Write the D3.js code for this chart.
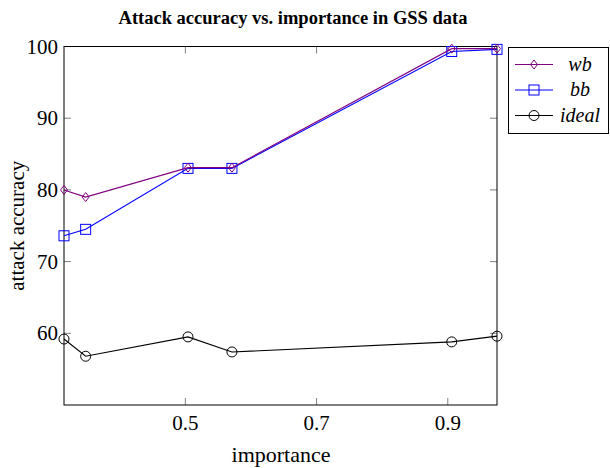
<!DOCTYPE html>
<html>
<head>
<meta charset="utf-8">
<script src="https://cdn.jsdelivr.net/npm/d3@7"></script>
<style>
  body { margin: 0; background: #fff; }
  svg { display: block; }
</style>
</head>
<body>
<div class="chartContainer"></div>
<script>
// Data
var importance = [0.315, 0.348, 0.504, 0.571, 0.906, 0.975];
var wbValues = [80.0, 79.0, 83.1, 83.1, 99.7, 99.7];
var bbValues = [73.6, 74.5, 83.0, 83.0, 99.3, 99.6];
var idealValues = [59.2, 56.8, 59.5, 57.4, 58.8, 59.6];
var xTicks = [0.5, 0.7, 0.9];
var yTicks = [60, 70, 80, 90, 100];
var seriesNames = ["wb", "bb", "ideal"];

//Colors
var wbColor = "#800080";
var bbColor = "#0000ff";
var idealColor = "#000000";
var tickColor = "#808080";

var width = 610, height = 468;
// note: "top" is taken by window.top, so plot edges get their own names
var plotLeft = 64, plotRight = 497, plotTop = 46.5, plotBottom = 405;
var serif = "'Liberation Serif', 'Times New Roman', serif";

var svg = d3.select(".chartContainer").append("svg")
    .attr("width", width)
    .attr("height", height);

var x = d3.scaleLinear().domain([0.315, 0.975]).range([plotLeft, plotRight]);
var y = d3.scaleLinear().domain([50, 100]).range([plotBottom, plotTop]);

// ticks inside on all four sides
var tickLen = 7;
var axisG = svg.append("g");
axisG.selectAll(".xtb").data(xTicks).enter().append("line")
    .attr("x1", d => x(d)).attr("x2", d => x(d))
    .attr("y1", plotBottom).attr("y2", plotBottom - tickLen)
    .style("stroke", tickColor);
axisG.selectAll(".xtt").data(xTicks).enter().append("line")
    .attr("x1", d => x(d)).attr("x2", d => x(d))
    .attr("y1", plotTop).attr("y2", plotTop + tickLen)
    .style("stroke", tickColor);
axisG.selectAll(".ytl").data(yTicks).enter().append("line")
    .attr("x1", plotLeft).attr("x2", plotLeft + tickLen)
    .attr("y1", d => y(d)).attr("y2", d => y(d))
    .style("stroke", tickColor);
axisG.selectAll(".ytr").data(yTicks).enter().append("line")
    .attr("x1", plotRight).attr("x2", plotRight - tickLen)
    .attr("y1", d => y(d)).attr("y2", d => y(d))
    .style("stroke", tickColor);

svg.append("rect")
    .attr("x", plotLeft).attr("y", plotTop)
    .attr("width", plotRight - plotLeft).attr("height", plotBottom - plotTop)
    .style("fill", "none").style("stroke", "#000").style("stroke-width", 1);

// tick labels
svg.selectAll(".xlab").data(xTicks).enter().append("text")
    .text(d => d3.format(".1f")(d))
    .attr("x", d => x(d)).attr("y", 430)
    .attr("text-anchor", "middle")
    .attr("font-family", serif).attr("font-size", "21px");
svg.selectAll(".ylab").data(yTicks).enter().append("text")
    .text(d => d)
    .attr("x", 58).attr("y", d => y(d) + 7)
    .attr("text-anchor", "end")
    .attr("font-family", serif).attr("font-size", "21px");

// axis titles
svg.append("text").text("importance")
    .attr("x", 281).attr("y", 462)
    .attr("text-anchor", "middle")
    .attr("font-family", serif).attr("font-size", "22px");
svg.append("text").text("attack accuracy")
    .attr("transform", "translate(24," + ((plotTop + plotBottom) / 2) + ") rotate(-90)")
    .attr("text-anchor", "middle")
    .attr("font-family", serif).attr("font-size", "21px");
svg.append("text").text("Attack accuracy vs. importance in GSS data")
    .attr("x", 293).attr("y", 24)
    .attr("text-anchor", "middle")
    .attr("font-family", serif).attr("font-weight", "bold").attr("font-size", "18.5px");

// markers
var drawMark = function (g, kind, cx, cy, color) {
    if (kind === "diamond") {
        g.append("path")
            .attr("d", "M" + cx + "," + (cy - 4.5) + "L" + (cx + 3.5) + "," + cy + "L" + cx + "," + (cy + 4.5) + "L" + (cx - 3.5) + "," + cy + "Z")
            .style("fill", "none").style("stroke", color);
    } else if (kind === "square") {
        g.append("rect")
            .attr("x", cx - 5).attr("y", cy - 5).attr("width", 10).attr("height", 10)
            .style("fill", "none").style("stroke", color);
    } else {
        g.append("circle")
            .attr("cx", cx).attr("cy", cy).attr("r", 5)
            .style("fill", "none").style("stroke", color);
    }
};

var series = [
    { name: seriesNames[0], values: wbValues, color: wbColor, mark: "diamond" },
    { name: seriesNames[1], values: bbValues, color: bbColor, mark: "square" },
    { name: seriesNames[2], values: idealValues, color: idealColor, mark: "circle" }
];

var line = d3.line().x(d => x(d[0])).y(d => y(d[1]));

// draw ideal first, then bb, then wb on top
[series[2], series[1], series[0]].forEach(function (s) {
    var pts = importance.map((v, i) => [v, s.values[i]]);
    var g = svg.append("g");
    g.append("path").datum(pts)
        .attr("d", line)
        .style("fill", "none").style("stroke", s.color).style("stroke-width", 1.1);
    pts.forEach(function (p) {
        drawMark(g, s.mark, x(p[0]), y(p[1]), s.color);
    });
});

// legend
var lg = svg.append("g");
lg.append("rect")
    .attr("x", 508.5).attr("y", 47.5).attr("width", 100).attr("height", 86)
    .style("fill", "#fff").style("stroke", "#000");
series.forEach(function (s, i) {
    var ly = 64.5 + i * 25.5;
    lg.append("line")
        .attr("x1", 515).attr("x2", 553).attr("y1", ly).attr("y2", ly)
        .style("stroke", s.color).style("stroke-width", 1.1);
    drawMark(lg, s.mark, 534, ly, s.color);
    lg.append("text").text(s.name)
        .attr("x", 580).attr("y", ly + 6)
        .attr("text-anchor", "middle")
        .attr("font-family", serif).attr("font-style", "italic").attr("font-size", "20px");
});
</script>
</body>
</html>
